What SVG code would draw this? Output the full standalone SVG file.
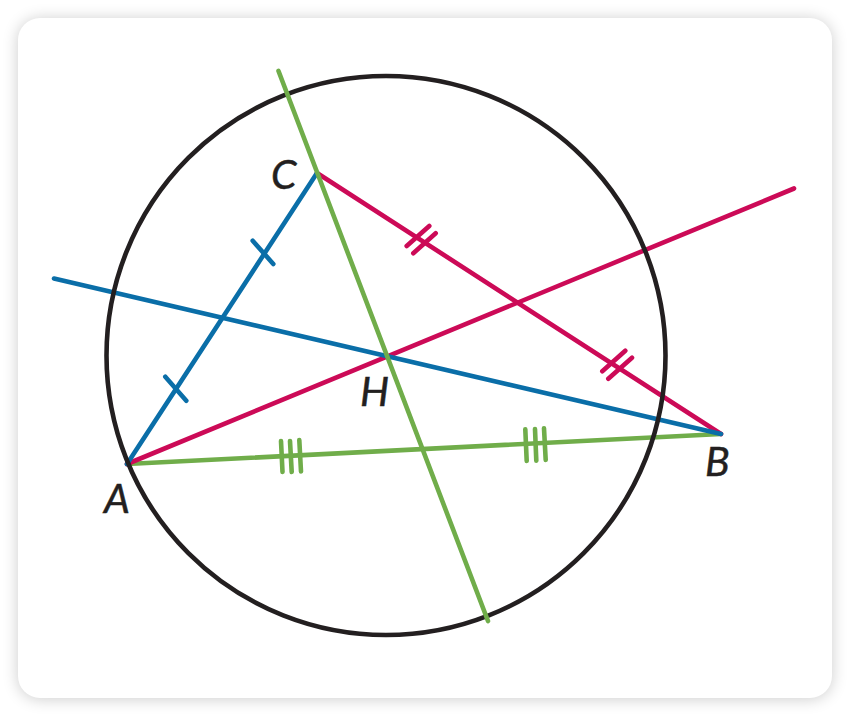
<svg xmlns="http://www.w3.org/2000/svg" width="851" height="716" viewBox="0 0 851 716">
<style>
.l{fill:none;stroke-width:4.600;stroke-linecap:round}
.b{stroke:#0a6ea8}.p{stroke:#cc0a57}.g{stroke:#70ad4a}
.t{font-family:"Lato","Liberation Sans",sans-serif;font-style:italic;font-size:41px;fill:#231f20;stroke:#231f20;stroke-width:.5}
</style>
<defs><filter id="s" x="-5%" y="-5%" width="110%" height="110%"><feGaussianBlur stdDeviation="8"/></filter></defs>
<rect width="851" height="716" fill="#fff"/>
<rect x="18" y="19" width="814" height="680" rx="22" fill="#000" opacity=".2" filter="url(#s)"/>
<rect x="18" y="18" width="814" height="680" rx="22" fill="#fff"/>
<g id="connectors">
<g class="l g"><path d="M127 464L721 434"/><path d="M281 441L282.500 472M290 441L291.700 472M299.300 440L301 471.500M525.300 429.300L526.700 461M535 429L536.300 460.700M544 428.300L545.700 460"/></g>
<g class="l p"><path d="M127 464L794 188.500"/><path d="M317 173L721 434"/><path d="M406.700 246L429.300 226M413.300 253.300L435.700 233.300M602.300 371.300L625.300 350.700M608.300 378.700L632 357.700"/></g>
<g class="l b"><path d="M54 278.500L721 434"/><path d="M127 464L317 173"/><path d="M252.700 240.700L273.300 264M165.300 376.700L186.300 400.700"/></g>
</g>
<g id="circle"><circle cx="386" cy="355.500" r="279.500" fill="none" stroke="#231f20" stroke-width="4.600"/></g>
<g id="perpendicular"><path class="l g" d="M278.500 71L488 621"/></g>
<g id="point-A"><text class="t" x="104" y="513">A</text></g>
<g id="point-B"><text class="t" x="705" y="476">B</text></g>
<g id="point-C"><text class="t" x="271" y="189">C</text></g>
<g id="point-H"><text class="t" x="360" y="406">H</text></g>
</svg>
